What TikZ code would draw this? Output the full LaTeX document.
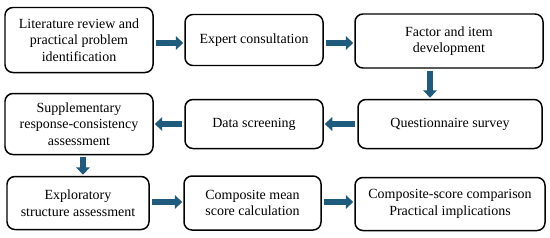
\documentclass[tikz,border=0pt]{standalone}
\usepackage{fontspec}
\setmainfont{Liberation Serif}
\usepackage{tikz}
\usetikzlibrary{arrows.meta, positioning}
\definecolor{flowblue}{RGB}{31,91,125}

\begin{document}
\begin{tikzpicture}[
  x=0.02cm, y=-0.02cm,
  stepbox/.style={draw, rounded corners=4.5pt, line width=0.85pt, fill=white, align=center,
    font=\fontsize{7.95}{9.5}\selectfont, inner sep=0pt},
  flow/.style={-{Triangle[length=0.15cm, width=0.27cm]}, line width=0.13cm, draw=flowblue,
    shorten <=0.04cm, shorten >=0.02cm}
]
\useasboundingbox (0,0) rectangle (550,237);

% Top row
\node[stepbox, minimum width=148*0.02cm, minimum height=65*0.02cm] (LR) at (79,40)
  {Literature review and\\practical problem\\identification};
\node[stepbox, minimum width=138*0.02cm, minimum height=51*0.02cm] (EC) at (254,40)
  {Expert consultation};
\node[stepbox, minimum width=188*0.02cm, minimum height=54*0.02cm] (FI) at (449,41)
  {Factor and item\\development};

% Middle row
\node[stepbox, minimum width=148*0.02cm, minimum height=61*0.02cm] (SR) at (79,124)
  {Supplementary\\response-consistency\\assessment};
\node[stepbox, minimum width=138*0.02cm, minimum height=49*0.02cm] (DS) at (254,124)
  {Data screening};
\node[stepbox, minimum width=184*0.02cm, minimum height=49*0.02cm] (QS) at (450,124)
  {Questionnaire survey};

% Bottom row
\node[stepbox, minimum width=142*0.02cm, minimum height=53*0.02cm] (ES) at (78,203)
  {Exploratory\\structure assessment};
\node[stepbox, minimum width=137*0.02cm, minimum height=54*0.02cm] (CM) at (252.5,203)
  {Composite mean\\score calculation};
\node[stepbox, minimum width=190*0.02cm, minimum height=53*0.02cm] (CS) at (450,204)
  {Composite-score comparison\\Practical implications};

% Flow arrows
\draw[flow] (LR.east |- 0,43) -- (EC.west |- 0,43);
\draw[flow] (EC.east |- 0,43) -- (FI.west |- 0,43);
\draw[flow] ([xshift=-19*0.02cm]FI.south) -- ([xshift=-19*0.02cm]FI.south |- QS.north);
\draw[flow] (QS.west) -- (DS.east);
\draw[flow] (DS.west) -- (SR.east |- DS.west);
\draw[flow] ([xshift=4*0.02cm]SR.south) -- ([xshift=4*0.02cm]SR.south |- ES.north);
\draw[flow] (ES.east |- 0,202) -- (CM.west |- 0,202);
\draw[flow] (CM.east |- 0,202) -- (CS.west |- 0,202);

\end{tikzpicture}
\end{document}
